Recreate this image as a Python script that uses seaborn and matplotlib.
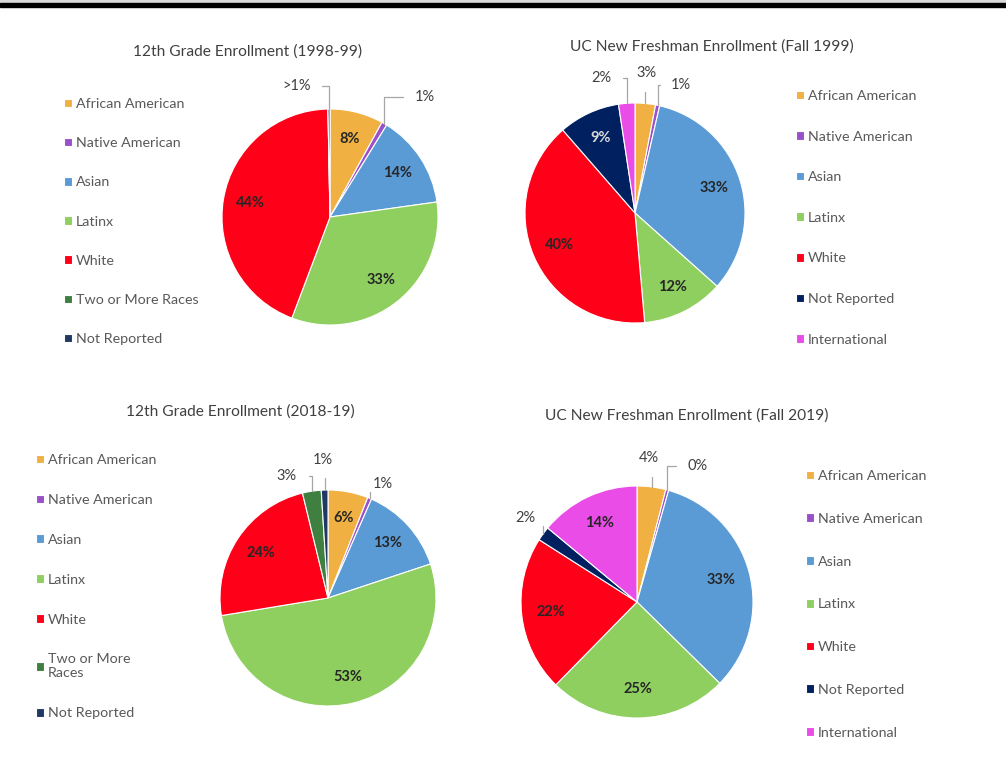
import numpy as np
import matplotlib
matplotlib.use("Agg")
import matplotlib.pyplot as plt
import seaborn as sns
from matplotlib.patches import Rectangle

sns.set_theme(style="white")
plt.rcParams['font.family'] = ['Lato', 'DejaVu Sans']

# data
groups_12th = ["African American", "Native American", "Asian", "Latinx", "White",
               "Two or More Races", "Not Reported"]
groups_uc = ["African American", "Native American", "Asian", "Latinx", "White",
             "Not Reported", "International"]

g12_1998 = [8, 0.8, 14, 33, 44, 0.0, 0.3]
g12_1998_lbl = ["8%", "1%", "14%", "33%", "44%", "", ">1%"]

uc_1999 = [3, 0.6, 33, 12, 40, 9, 2.4]
uc_1999_lbl = ["3%", "1%", "33%", "12%", "40%", "9%", "2%"]

g12_2018 = [6, 0.6, 13.3, 52.5, 23.8, 2.8, 1.0]
g12_2018_lbl = ["6%", "1%", "13%", "53%", "24%", "3%", "1%"]

uc_2019 = [4, 0.4, 33, 25, 21.7, 2, 14]
uc_2019_lbl = ["4%", "0%", "33%", "25%", "22%", "2%", "14%"]

colors_12th = ["#F0B142", "#9A4FCB", "#5B9BD5", "#8FCF5F", "#FF0019", "#3F8040", "#1F3864"]
colors_uc = ["#F0B142", "#9A4FCB", "#5B9BD5", "#8FCF5F", "#FF0019", "#002060", "#EA4CE8"]

W, H = 1006, 770
fig = plt.figure(figsize=(W / 100, H / 100), dpi=100)

# header band
fig.patches.append(Rectangle((0, 1 - 3 / H), 1, 3 / H, transform=fig.transFigure,
                             color="#d9d9d9", zorder=0))
fig.patches.append(Rectangle((0, 1 - 7 / H), 1, 4 / H, transform=fig.transFigure,
                             color="black", zorder=0))

txt = "#595959"
lbl_col = "#262626"


def draw_pie(cx, cy, r, values, labels, colors, names, title, title_xy,
             outside, legend_xy, spacing, light=()):
    ax = fig.add_axes([(cx - r) / W, 1 - (cy + r) / H, 2 * r / W, 2 * r / H])
    wedges, _ = ax.pie(values, colors=colors, startangle=90, counterclock=False,
                       radius=1, wedgeprops=dict(edgecolor="white", linewidth=0.8))
    ax.set_xlim(-1, 1)
    ax.set_ylim(-1, 1)
    ax.set_aspect("equal")
    ax.axis("off")
    for i, (w, lab) in enumerate(zip(wedges, labels)):
        if not lab:
            continue
        mid = np.deg2rad((w.theta1 + w.theta2) / 2)
        if i in outside:
            tx, ty = outside[i]
            edge = (np.cos(mid) * 1.0, np.sin(mid) * 1.0)
            ax.annotate(lab, xy=edge, xytext=(tx, ty), ha="center", va="center",
                        fontsize=10.5, color="#404040", annotation_clip=False,
                        arrowprops=dict(arrowstyle="-", color="#a6a6a6", lw=0.9,
                                        shrinkA=6, shrinkB=0,
                                        connectionstyle="angle,angleA=0,angleB=90,rad=0"))
        else:
            d = 0.75
            ax.text(np.cos(mid) * d, np.sin(mid) * d, lab, ha="center", va="center",
                    fontsize=10.5, fontweight="bold",
                    color="#d9d9d9" if i in light else lbl_col)
    fig.text(title_xy[0] / W, 1 - title_xy[1] / H, title, ha="center", va="center",
             fontsize=11.2, color="#404040")
    leg = fig.legend(wedges, names, loc="upper left",
                     bbox_to_anchor=(legend_xy[0] / W, 1 - legend_xy[1] / H),
                     frameon=False, fontsize=10.3, handlelength=0.55, handleheight=0.55,
                     handletextpad=0.3, labelspacing=spacing, borderpad=0,
                     borderaxespad=0)
    for t in leg.get_texts():
        t.set_color(txt)


draw_pie(330, 217, 108, g12_1998, g12_1998_lbl, colors_12th, groups_12th,
         "12th Grade Enrollment (1998-99)", (248, 52),
         {1: (0.88, 1.11), 6: (-0.31, 1.21)}, (64, 98), 1.9)

draw_pie(635, 213, 110, uc_1999, uc_1999_lbl, colors_uc, groups_uc,
         "UC New Freshman Enrollment (Fall 1999)", (712, 47),
         {0: (0.1, 1.27), 1: (0.42, 1.16), 6: (-0.31, 1.23)}, (796, 90), 2.0,
         light=(5,))

names_2018 = groups_12th[:5] + ["Two or More\nRaces", "Not Reported"]
draw_pie(328, 598, 108, g12_2018, g12_2018_lbl, colors_12th, names_2018,
         "12th Grade Enrollment (2018-19)", (240, 412),
         {1: (0.51, 1.06), 5: (-0.38, 1.13), 6: (-0.05, 1.28)}, (36, 454), 1.95)

draw_pie(637, 602, 116, uc_2019, uc_2019_lbl, colors_uc, groups_uc,
         "UC New Freshman Enrollment (Fall 2019)", (687, 416),
         {0: (0.1, 1.24), 1: (0.52, 1.17), 5: (-0.96, 0.72)}, (806, 470), 2.15)

plt.savefig("out.png", dpi=100, facecolor="white")
